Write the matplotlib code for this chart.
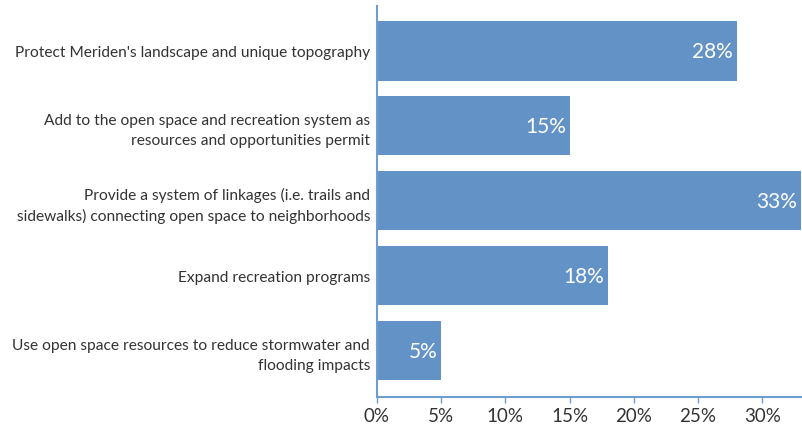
import matplotlib
matplotlib.use("Agg")
import matplotlib.pyplot as plt
from matplotlib.ticker import FuncFormatter

# survey responses, top to bottom
goals = [
    "Protect Meriden's landscape and unique topography",
    "Add to the open space and recreation system as\nresources and opportunities permit",
    "Provide a system of linkages (i.e. trails and\nsidewalks) connecting open space to neighborhoods",
    "Expand recreation programs",
    "Use open space resources to reduce stormwater and\nflooding impacts",
]
share = [28, 15, 33, 18, 5]
xticks = [0, 5, 10, 15, 20, 25, 30]

bar_color = "#6393C6"
axis_color = "#6E9DD0"
text_color = "#333333"

plt.rcParams['font.family'] = ['Lato', 'DejaVu Sans']

fig = plt.figure(figsize=(8.02, 4.27), dpi=100)
ax = fig.add_axes([377 / 802, 29 / 427, 425 / 802, 391 / 427])

ypos = list(range(len(goals)))
ax.barh(ypos, share, height=0.79, color=bar_color)
for y, v in zip(ypos, share):
    ax.text(v - 0.3, y, f"{v}%", ha='right', va='center',
            color='white', fontsize=15)

ax.set_yticks(ypos)
ax.set_yticklabels(goals, fontsize=11.2, color=text_color, linespacing=1.5)
ax.set_ylim(4.62, -0.6)
ax.set_xlim(0, 33.1)
ax.set_xticks(xticks)
ax.xaxis.set_major_formatter(FuncFormatter(lambda v, p: f"{v:.0f}%"))

ax.tick_params(axis='y', length=0, pad=5)
ax.tick_params(axis='x', length=4, width=1, color=axis_color, pad=3,
               labelsize=13.5, labelcolor=text_color)

for side in ['top', 'right']:
    ax.spines[side].set_visible(False)
for side in ['left', 'bottom']:
    ax.spines[side].set_color(axis_color)
    ax.spines[side].set_linewidth(1.5)

fig.savefig("out.png", dpi=100)
